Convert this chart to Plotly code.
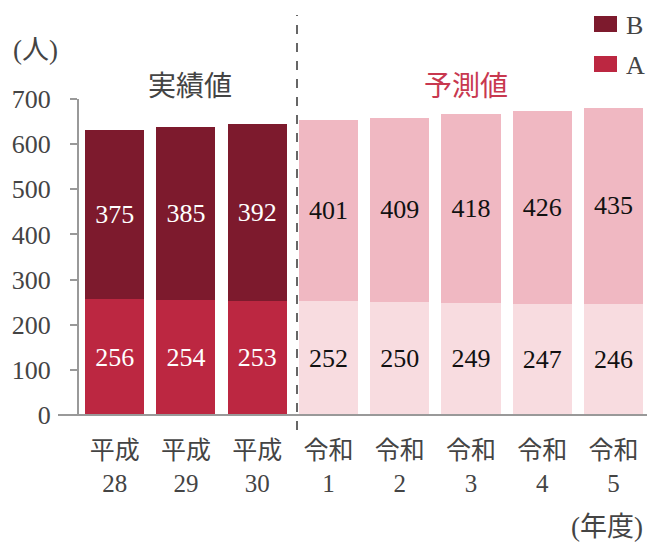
import plotly.graph_objects as go

categories = ["平成<br>28", "平成<br>29", "平成<br>30", "令和<br>1", "令和<br>2", "令和<br>3", "令和<br>4", "令和<br>5"]
a_values = [256, 254, 253, 252, 250, 249, 247, 246]
b_values = [375, 385, 392, 401, 409, 418, 426, 435]
is_forecast = [False, False, False, True, True, True, True, True]

A_ACT, B_ACT = "#BC2741", "#7D1A2D"
A_FC, B_FC = "#F8DCE0", "#F0B8C2"
FONT = "Liberation Serif, 'Noto Sans CJK JP', serif"

a_colors = [A_FC if f else A_ACT for f in is_forecast]
b_colors = [B_FC if f else B_ACT for f in is_forecast]
a_text_colors = ["#111111" if f else "#ffffff" for f in is_forecast]
b_text_colors = ["#111111" if f else "#ffffff" for f in is_forecast]

fig = go.Figure()
fig.add_trace(go.Bar(x=categories, y=a_values, name="A", marker=dict(color=a_colors, line=dict(width=0)),
                     text=[str(v) for v in a_values], textposition="inside", insidetextanchor="middle",
                     textfont=dict(family=FONT, size=26, color=a_text_colors), textangle=0, showlegend=False))
fig.add_trace(go.Bar(x=categories, y=b_values, name="B", marker=dict(color=b_colors, line=dict(width=0)),
                     text=[str(v) for v in b_values], textposition="inside", insidetextanchor="middle",
                     textfont=dict(family=FONT, size=26, color=b_text_colors), textangle=0, showlegend=False))

L, R, T, B = 79, 0, 99, 127
W, H = 647, 542
pw, ph = W - L - R, H - T - B

def px(x):
    return (x - L) / pw

def py(y):
    return (H - B - y) / ph

shapes = []
shapes.append(dict(type="line", xref="paper", yref="paper", x0=px(297), x1=px(297), y0=py(430), y1=py(15),
                   line=dict(color="#666666", width=2, dash="dash")))
shapes.append(dict(type="line", xref="paper", yref="paper", x0=px(58), x1=1, y0=0, y1=0,
                   line=dict(color="#999999", width=2)))
shapes.append(dict(type="rect", xref="paper", yref="paper", x0=px(594), x1=px(617), y0=py(32), y1=py(16),
                   fillcolor=B_ACT, line=dict(width=0)))
shapes.append(dict(type="rect", xref="paper", yref="paper", x0=px(594), x1=px(617), y0=py(72), y1=py(56),
                   fillcolor=A_ACT, line=dict(width=0)))

annotations = [
    dict(text="B", xref="paper", yref="paper", x=px(624), y=py(25), xanchor="left", yanchor="middle",
         showarrow=False, font=dict(family=FONT, size=26, color="#444444")),
    dict(text="A", xref="paper", yref="paper", x=px(624), y=py(65), xanchor="left", yanchor="middle",
         showarrow=False, font=dict(family=FONT, size=26, color="#444444")),
    dict(text="実績値", xref="paper", yref="paper", x=px(190), y=py(86), xanchor="center", yanchor="middle",
         showarrow=False, font=dict(family=FONT, size=28, color="#444444")),
    dict(text="予測値", xref="paper", yref="paper", x=px(466), y=py(86), xanchor="center", yanchor="middle",
         showarrow=False, font=dict(family=FONT, size=28, color="#C8384F")),
    dict(text="(人)", xref="paper", yref="paper", x=px(35), y=py(50), xanchor="center", yanchor="middle",
         showarrow=False, font=dict(family=FONT, size=27, color="#444444")),
    dict(text="(年度)", xref="paper", yref="paper", x=px(645), y=py(527), xanchor="right", yanchor="middle",
         showarrow=False, font=dict(family=FONT, size=27, color="#444444")),
]

fig.update_layout(
    width=W, height=H, barmode="stack", bargap=0.17,
    margin=dict(l=L, r=R, t=T, b=B, pad=0),
    plot_bgcolor="white", paper_bgcolor="white",
    font=dict(family=FONT, size=25, color="#444444"),
    uniformtext=dict(mode=False),
    shapes=shapes, annotations=annotations,
    xaxis=dict(range=[-0.5, 7.47], showline=False, ticks="", showgrid=False, zeroline=False,
               tickfont=dict(family=FONT, size=25, color="#444444"), ticklabelstandoff=18),
    yaxis=dict(range=[0, 700], tickvals=[0, 100, 200, 300, 400, 500, 600, 700], showline=True,
               linecolor="#999999", linewidth=2, ticks="outside", ticklen=7, tickcolor="#999999", tickwidth=2,
               showgrid=False, zeroline=False, tickfont=dict(family=FONT, size=26, color="#444444"),
               ticklabelstandoff=14),
)

fig.write_html("out.html")
